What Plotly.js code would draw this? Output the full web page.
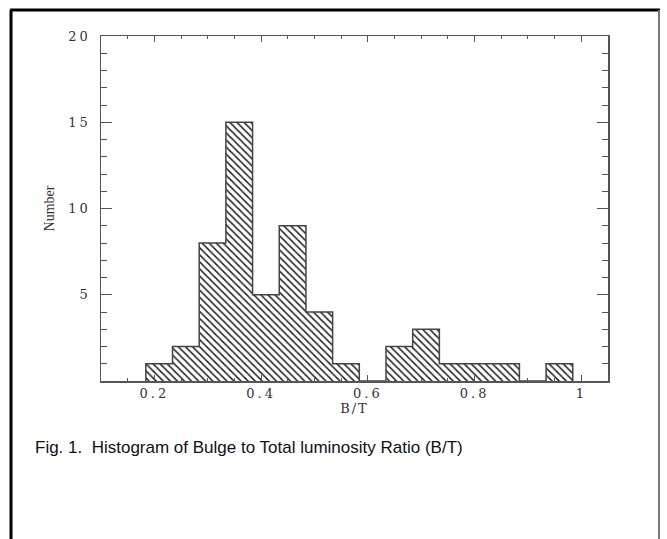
<!DOCTYPE html>
<html>
<head>
<meta charset="utf-8">
<script src="https://cdn.plot.ly/plotly-3.0.1.min.js"></script>
<style>
  html, body { margin: 0; padding: 0; background: #fff; }
  #chart { width: 667px; height: 539px; }
  .xtick text, .ytick text { letter-spacing: 3px; }
  .xtitle { letter-spacing: 2px; }
</style>
</head>
<body>
<div id="chart"></div>
<script>
// Histogram data
const binEdges = [0.184, 0.234, 0.284, 0.334, 0.384, 0.434, 0.484, 0.534, 0.584,
                  0.634, 0.684, 0.734, 0.784, 0.834, 0.884, 0.934, 0.984];
const counts = [1, 2, 8, 15, 5, 9, 4, 1, 0, 2, 3, 1, 1, 1, 0, 1];
const yTickVals = [5, 10, 15, 20];
const xLabel = 'B/T';
const yLabel = 'Number';
const caption = 'Fig. 1.  Histogram of Bulge to Total luminosity Ratio (B/T)';

// bar centres and widths derived from the bin edges
const centers = counts.map((_, i) => (binEdges[i] + binEdges[i + 1]) / 2);
const widths = counts.map((_, i) => binEdges[i + 1] - binEdges[i]);

// step outline of the histogram
const ox = [binEdges[0]], oy = [0];
counts.forEach((c, i) => { ox.push(binEdges[i]); oy.push(c); });
ox.push(binEdges[binEdges.length - 1]); oy.push(counts[counts.length - 1]);
ox.push(binEdges[binEdges.length - 1]); oy.push(0);

const ink = '#333';
const tickFont = { family: 'DejaVu Serif', size: 13, color: ink };

const traces = [
  {
    type: 'bar', x: centers, y: counts, width: widths,
    marker: {
      color: '#ffffff',
      line: { width: 0 },
      pattern: { shape: '\\', fgcolor: '#222', bgcolor: '#ffffff', size: 5, solidity: 0.3 }
    },
    hoverinfo: 'skip', showlegend: false
  },
  {
    type: 'scatter', mode: 'lines', x: ox, y: oy,
    line: { shape: 'hv', color: '#444', width: 1.5 },
    hoverinfo: 'skip', showlegend: false
  }
];

const W = 507, H = 345, L = 101, T = 36;
const px = v => (v - L) / W;
const py = v => (T + H - v) / H;

const layout = {
  width: 667, height: 539,
  margin: { l: 101, r: 59, t: 36, b: 158 },
  paper_bgcolor: '#ffffff', plot_bgcolor: '#ffffff',
  bargap: 0,
  showlegend: false,
  xaxis: {
    range: [0.1, 1.05], tick0: 0.2, dtick: 0.2,
    ticks: 'inside', ticklen: 6, tickwidth: 1, tickcolor: '#555',
    showline: true, linecolor: '#555', linewidth: 1.5, mirror: 'ticks',
    showgrid: false, zeroline: false,
    tickfont: tickFont,
    minor: { dtick: 0.05, tick0: 0.2, ticks: 'inside', ticklen: 3, tickcolor: '#555', showgrid: false },
    title: { text: xLabel, font: tickFont, standoff: 2 }
  },
  yaxis: {
    range: [0, 20], tickvals: yTickVals,
    ticks: 'inside', ticklen: 11, tickwidth: 1, tickcolor: '#555',
    showline: true, linecolor: '#555', linewidth: 1.5, mirror: 'ticks',
    showgrid: false, zeroline: false,
    tickfont: tickFont, ticklabelstandoff: 6,
    minor: { dtick: 1, ticks: 'inside', ticklen: 6, tickcolor: '#555', showgrid: false },
    title: { text: yLabel, font: { family: 'Liberation Serif', size: 14, color: ink }, standoff: 10 }
  },
  shapes: [
    { type: 'line', xref: 'paper', yref: 'paper', x0: px(11), x1: px(11), y0: py(10), y1: py(545), line: { color: '#000', width: 3 } },
    { type: 'line', xref: 'paper', yref: 'paper', x0: px(10), x1: px(660), y0: py(10), y1: py(10), line: { color: '#000', width: 3 } },
    { type: 'line', xref: 'paper', yref: 'paper', x0: px(659), x1: px(659), y0: py(10), y1: py(545), line: { color: '#777', width: 2 } }
  ],
  annotations: [
    { xref: 'paper', yref: 'paper', x: px(33), y: py(447), xanchor: 'left', yanchor: 'middle',
      text: caption, showarrow: false,
      font: { family: 'Liberation Sans', size: 17, color: '#111' } }
  ]
};

Plotly.newPlot('chart', traces, layout, { staticPlot: true, displayModeBar: false });
</script>
</body>
</html>
